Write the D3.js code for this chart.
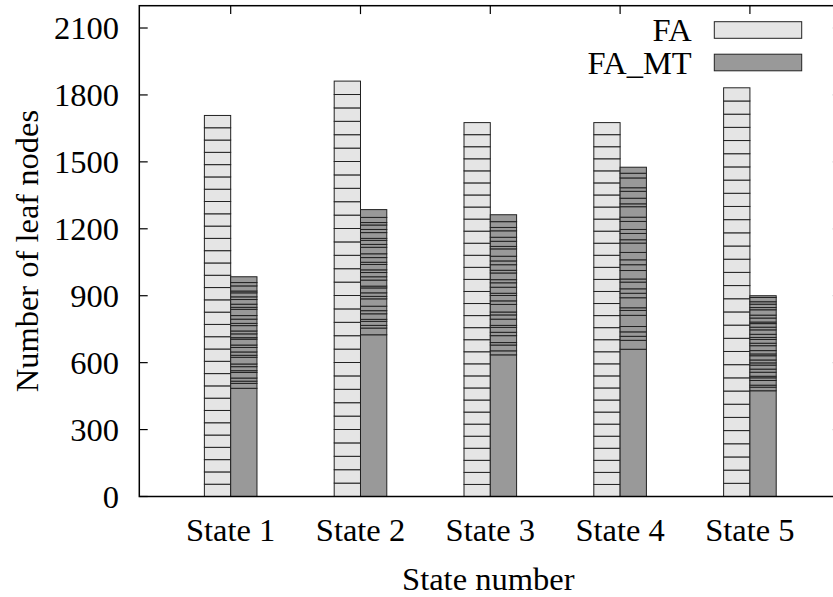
<!DOCTYPE html>
<html>
<head>
<meta charset="utf-8">
<script src="https://cdn.jsdelivr.net/npm/d3@7"></script>
<style>
  html, body { margin: 0; padding: 0; background: #fff; }
</style>
</head>
<body>
<svg id="chart" width="833" height="597"></svg>
<script>
// Categories and series
const states = ["State 1", "State 2", "State 3", "State 4", "State 5"];
const seriesNames = ["FA", "FA_MT"];

// FA: total leaf nodes per state, stacked from equal blocks
const faTotals = [1708, 1862, 1676, 1676, 1832];
const faBlocks = 31;

// FA_MT: first (bottom) block, then the smaller blocks stacked on top of it
const faMtBase = [485, 725, 635, 660, 474];
const faMtBlocks = [
  [22, 10, 14, 25, 8, 18, 12, 30, 9, 15, 20, 11, 26, 7, 17, 13, 24, 10, 19, 16, 28, 9, 14, 21, 12, 18, 8, 23, 15, 26],
  [30, 12, 18, 9, 25, 14, 20, 33, 11, 16, 22, 8, 27, 15, 19, 12, 24, 10, 21, 17, 29, 13, 18, 9, 26, 14, 20, 11, 23, 35],
  [18, 26, 11, 31, 15, 22, 9, 28, 19, 13, 34, 16, 24, 10, 27, 20, 14, 30, 12, 25, 17, 21, 33, 11, 23, 18, 29, 15, 26, 31],
  [40, 18, 20, 24, 50, 22, 12, 45, 20, 20, 30, 14, 38, 26, 22, 33, 42, 15, 28, 18, 36, 19, 47, 13, 25, 31, 16, 44, 21, 27],
  [16, 9, 21, 12, 7, 18, 14, 18, 10, 13, 19, 8, 15, 22, 11, 17, 9, 14, 20, 12, 16, 7, 18, 13, 24, 10, 15, 11, 19, 8]
];

// Axis ticks
const yTicks = [0, 300, 600, 900, 1200, 1500, 1800, 2100];

const FONT = "'Liberation Serif', 'Times New Roman', 'DejaVu Serif', serif";

const svg = d3.select("#chart")
  .attr("font-family", FONT);

const plot = { left: 139.3, right: 841.3, top: 5.7, bottom: 496.5 };

const x = d3.scaleLinear().domain([-0.704, 4.704]).range([plot.left, plot.right]);
const y = d3.scaleLinear().domain([0, 2200]).range([plot.bottom, plot.top]);
const barW = 0.2026; // in category units

const colors = { FA: "#e5e5e5", FA_MT: "#999999" };
const edge = "#222";
const tickLen = 8.4;

// Tick marks on all four sides (inward)
const ticks = svg.append("g").attr("stroke", "#000").attr("stroke-width", 1.2);
yTicks.forEach(v => {
  ticks.append("line").attr("x1", plot.left).attr("x2", plot.left + tickLen)
    .attr("y1", y(v)).attr("y2", y(v));
  ticks.append("line").attr("x1", plot.right).attr("x2", plot.right - tickLen)
    .attr("y1", y(v)).attr("y2", y(v));
});
states.forEach((s, i) => {
  ticks.append("line").attr("x1", x(i)).attr("x2", x(i))
    .attr("y1", plot.top).attr("y2", plot.top + tickLen);
  ticks.append("line").attr("x1", x(i)).attr("x2", x(i))
    .attr("y1", plot.bottom).attr("y2", plot.bottom - tickLen);
});

// Bars
const bars = svg.append("g");
states.forEach((s, i) => {
  // FA bar: stack of equal blocks
  const x0 = x(i - barW), x1 = x(i);
  const g = bars.append("g");
  for (let k = 0; k < faBlocks; k++) {
    const lo = faTotals[i] * k / faBlocks, hi = faTotals[i] * (k + 1) / faBlocks;
    g.append("rect")
      .attr("x", x0).attr("width", x1 - x0)
      .attr("y", y(hi)).attr("height", y(lo) - y(hi))
      .attr("fill", colors.FA).attr("stroke", edge).attr("stroke-width", 1);
  }
  // FA_MT bar: base block plus stacked small blocks
  const m0 = x(i), m1 = x(i + barW);
  const gm = bars.append("g");
  const vals = [faMtBase[i]].concat(faMtBlocks[i]);
  let acc = 0;
  vals.forEach(v => {
    const lo = acc, hi = acc + v;
    gm.append("rect")
      .attr("x", m0).attr("width", m1 - m0)
      .attr("y", y(hi)).attr("height", y(lo) - y(hi))
      .attr("fill", colors.FA_MT).attr("stroke", edge).attr("stroke-width", 1);
    acc = hi;
  });
});

// Frame
svg.append("rect")
  .attr("x", plot.left).attr("y", plot.top)
  .attr("width", plot.right - plot.left).attr("height", plot.bottom - plot.top)
  .attr("fill", "none").attr("stroke", "#000").attr("stroke-width", 1.5);

// Y tick labels
const fs = 32.5;
svg.append("g").selectAll("text").data(yTicks).join("text")
  .attr("x", 119).attr("y", d => y(d))
  .attr("dy", "0.34em")
  .attr("text-anchor", "end")
  .attr("font-size", fs)
  .text(d => d);

// X tick labels
svg.append("g").selectAll("text").data(states).join("text")
  .attr("x", (d, i) => x(i)).attr("y", 541)
  .attr("text-anchor", "middle")
  .attr("font-size", fs)
  .text(d => d);

// Axis titles
svg.append("text")
  .attr("x", (plot.left + plot.right) / 2 - 2).attr("y", 590)
  .attr("text-anchor", "middle").attr("font-size", fs)
  .text("State number");

svg.append("text")
  .attr("transform", `translate(38, ${(plot.top + plot.bottom) / 2}) rotate(-90)`)
  .attr("text-anchor", "middle").attr("font-size", fs)
  .text("Number of leaf nodes");

// Legend
const legend = svg.append("g");
seriesNames.forEach((name, i) => {
  const cy = 30 + i * 32.5;
  legend.append("text")
    .attr("x", 691.7).attr("y", cy).attr("dy", "0.34em")
    .attr("text-anchor", "end").attr("font-size", fs)
    .text(name);
  legend.append("rect")
    .attr("x", 714.3).attr("y", cy - 8.3).attr("width", 87.4).attr("height", 16.6)
    .attr("fill", colors[name]).attr("stroke", edge).attr("stroke-width", 1);
});
</script>
</body>
</html>
